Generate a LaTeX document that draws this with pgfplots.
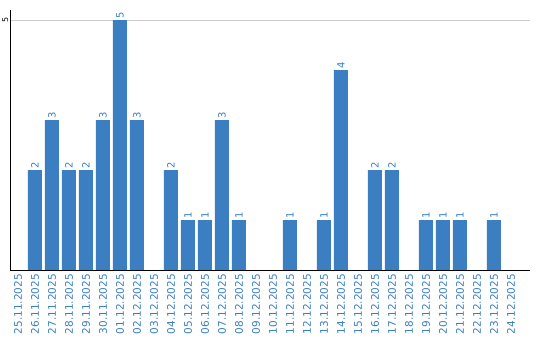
\documentclass[border=0pt]{standalone}
\usepackage{pgfplots}
\pgfplotsset{compat=1.18}
\usepackage{fontspec}
\setmainfont{DejaVu Sans}
\definecolor{barblue}{RGB}{59,127,194}
\definecolor{gridgray}{RGB}{204,204,204}
\begin{document}
\begin{tikzpicture}
\path[use as bounding box] (0,0) rectangle (540bp,340bp);
\begin{axis}[
  at={(10bp,70bp)}, anchor=south west,
  scale only axis, width=520bp, height=260bp,
  xmin=-0.47, xmax=30.12, ymin=0, ymax=5.2,
  axis x line=bottom, axis y line=left,
  axis line style={-, black, line width=1bp},
  xtick={0,...,29},
  xticklabels={25.11.2025,26.11.2025,27.11.2025,28.11.2025,29.11.2025,30.11.2025,01.12.2025,02.12.2025,03.12.2025,04.12.2025,05.12.2025,06.12.2025,07.12.2025,08.12.2025,09.12.2025,10.12.2025,11.12.2025,12.12.2025,13.12.2025,14.12.2025,15.12.2025,16.12.2025,17.12.2025,18.12.2025,19.12.2025,20.12.2025,21.12.2025,22.12.2025,23.12.2025,24.12.2025},
  xticklabel style={rotate=90, anchor=east, text=barblue, font=\fontsize{10.5bp}{12bp}\selectfont, inner sep=0pt, xshift=-4bp},
  ytick={5},
  yticklabel style={rotate=90, anchor=south, font=\fontsize{8bp}{9bp}\selectfont, inner sep=1.5bp},
  major tick length=0pt,
  ymajorgrids, grid style={gridgray, line width=1bp},
  /pgf/number format/assume math mode=true,
  ybar, bar width=14bp, bar shift=0pt,
  nodes near coords,
  every node near coord/.append style={rotate=90, anchor=west, text=barblue, font=\fontsize{10bp}{11bp}\selectfont, inner sep=1bp},
]
\addplot[fill=barblue, draw=none] coordinates {
  (1,2) (2,3) (3,2) (4,2) (5,3) (6,5) (7,3) (9,2) (10,1) (11,1) (12,3) (13,1)
  (16,1) (18,1) (19,4) (21,2) (22,2) (24,1) (25,1) (26,1) (28,1)
};
\end{axis}
\end{tikzpicture}
\end{document}
